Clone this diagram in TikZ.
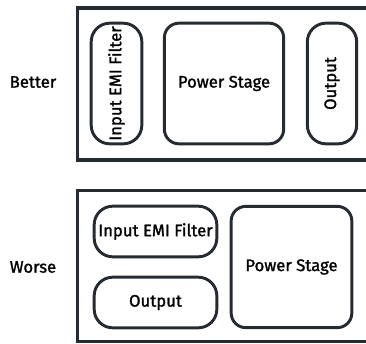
\documentclass[tikz,border=0pt]{standalone}
\usepackage{fontspec}
\setmainfont{Fira Sans}
\newfontfamily\lblfont{Fira Sans}[FakeBold=1.4]
\usepackage{tikz}
\usetikzlibrary{positioning}
\definecolor{edge}{HTML}{262B31}

\begin{document}
\begin{tikzpicture}[
    x=0.75pt, y=-0.75pt,
    block/.style={draw=edge, line width=2.2pt, rounded corners=11pt, inner sep=0pt,
        font=\lblfont\fontsize{12.5}{14}\selectfont, text=black},
    slim/.style={block, rounded corners=14pt},
    frame/.style={draw=edge, line width=2.3pt},
    tag/.style={font=\lblfont\fontsize{12.5}{14}\selectfont, text=black}
]
    \useasboundingbox (0,0) rectangle (366,343);

    % Better
    \draw[frame] (366,8) -- (77.5,8) -- (77.5,160) -- (366,160);
    \node[tag] (better) at (33,82) {Better};
    \node[slim, minimum width=38pt, minimum height=90.5pt] (emi1) at (116.5,83.5)
        {\rotatebox{90}{Input EMI Filter}};
    \node[block, minimum width=89.5pt, minimum height=90.5pt] (pow1) at (224,83.5) {Power Stage};
    \node[slim, minimum width=37pt, minimum height=90.5pt] (out1) at (332,83.5)
        {\rotatebox{90}{Output}};

    % Worse
    \draw[frame] (366,190.5) -- (77.5,190.5) -- (77.5,341.5) -- (366,341.5);
    \node[tag] (worse) at (33,267) {Worse};
    \node[slim, minimum width=92pt, minimum height=38pt] (emi2) at (155.5,231.5) {Input EMI Filter};
    \node[slim, minimum width=92pt, minimum height=38pt] (out2) at (155.5,302.5) {Output};
    \node[block, minimum width=90.5pt, minimum height=91pt] (pow2) at (291.5,267) {Power Stage};
\end{tikzpicture}
\end{document}
